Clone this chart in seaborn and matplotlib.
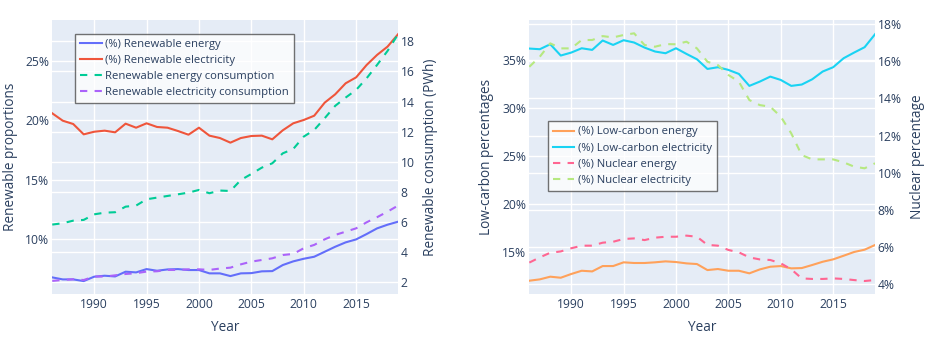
import numpy as np
import pandas as pd
import matplotlib
matplotlib.use("Agg")
import matplotlib.pyplot as plt
import seaborn as sns
from matplotlib.ticker import FuncFormatter, MultipleLocator

years = list(range(1986, 2020))

renew_energy_pct = [6.77, 6.60, 6.60, 6.46, 6.83, 6.91, 6.85, 7.25, 7.19, 7.47,
                    7.33, 7.44, 7.47, 7.39, 7.39, 7.11, 7.11, 6.88, 7.11, 7.13,
                    7.28, 7.30, 7.81, 8.12, 8.34, 8.51, 8.93, 9.35, 9.72, 9.97,
                    10.42, 10.90, 11.21, 11.46]
renew_elec_pct = [20.59, 19.97, 19.69, 18.82, 19.04, 19.13, 18.99, 19.72, 19.38, 19.75,
                  19.44, 19.38, 19.10, 18.79, 19.38, 18.71, 18.51, 18.12, 18.51, 18.68,
                  18.71, 18.40, 19.16, 19.75, 20.03, 20.39, 21.49, 22.19, 23.12, 23.62,
                  24.66, 25.51, 26.21, 27.25]
renew_energy_cons = [5.83, 5.92, 6.09, 6.14, 6.51, 6.62, 6.65, 7.02, 7.09, 7.51,
                     7.62, 7.73, 7.84, 7.95, 8.13, 7.91, 8.09, 8.06, 8.79, 9.19,
                     9.61, 9.90, 10.56, 10.85, 11.67, 12.11, 12.89, 13.71, 14.26, 14.77,
                     15.54, 16.43, 17.36, 18.46]
renew_elec_cons = [2.09, 2.15, 2.20, 2.15, 2.38, 2.38, 2.46, 2.55, 2.60, 2.71,
                   2.73, 2.82, 2.82, 2.86, 2.86, 2.82, 2.91, 2.97, 3.19, 3.37,
                   3.48, 3.59, 3.81, 3.88, 4.26, 4.48, 4.85, 5.14, 5.36, 5.58,
                   5.98, 6.32, 6.69, 7.09]

lowc_energy_pct = [11.97, 12.11, 12.39, 12.28, 12.67, 13.01, 12.94, 13.50, 13.50, 13.89,
                   13.82, 13.82, 13.89, 13.99, 13.92, 13.78, 13.71, 13.08, 13.19, 13.01,
                   13.01, 12.74, 13.15, 13.43, 13.50, 13.26, 13.29, 13.61, 13.95, 14.20,
                   14.58, 14.97, 15.21, 15.70]
lowc_elec_pct = [36.22, 36.15, 36.67, 35.49, 35.80, 36.25, 36.08, 37.06, 36.60, 37.09,
                 36.85, 36.32, 35.91, 35.73, 36.25, 35.66, 35.10, 34.09, 34.27, 33.99,
                 33.57, 32.32, 32.77, 33.29, 32.94, 32.32, 32.46, 33.01, 33.82, 34.27,
                 35.21, 35.80, 36.36, 37.72]
nuc_energy_pct = [5.17, 5.45, 5.70, 5.77, 5.94, 6.08, 6.08, 6.24, 6.29, 6.44,
                  6.47, 6.38, 6.51, 6.56, 6.56, 6.62, 6.56, 6.12, 6.08, 5.85,
                  5.72, 5.45, 5.34, 5.31, 5.13, 4.81, 4.32, 4.29, 4.29, 4.32,
                  4.29, 4.23, 4.18, 4.23]
nuc_elec_pct = [15.70, 16.24, 16.96, 16.69, 16.69, 17.14, 17.14, 17.35, 17.28, 17.41,
                17.50, 16.87, 16.78, 16.92, 16.91, 17.05, 16.69, 15.97, 15.79, 15.26,
                14.90, 13.91, 13.64, 13.55, 13.02, 12.12, 10.95, 10.72, 10.72, 10.72,
                10.56, 10.33, 10.24, 10.51]

df = pd.DataFrame({
    "Year": years,
    "re": renew_energy_pct, "rel": renew_elec_pct,
    "rec": renew_energy_cons, "relc": renew_elec_cons,
    "lce": lowc_energy_pct, "lcel": lowc_elec_pct,
    "ne": nuc_energy_pct, "nel": nuc_elec_pct,
})

TXT = "#2a3f5f"
BG = "#E5ECF6"
plt.rcParams["font.family"] = ["Open Sans", "DejaVu Sans"]
plt.rcParams["text.color"] = TXT

fig = plt.figure(figsize=(9.52, 3.47), dpi=100)
fig.patch.set_facecolor("white")

LW = 1.5
DASH = (3.5, 3.5)
TICK_FS = 8.7
LAB_FS = 9.8
LEG_FS = 8.1


def make_axes(rect):
    B = fig.add_axes(rect)
    A = B.twinx()
    C = B.twinx()
    A.set_zorder(0); B.set_zorder(1); C.set_zorder(2)
    A.patch.set_visible(True); A.set_facecolor(BG)
    B.patch.set_visible(False); C.patch.set_visible(False)
    for ax in (A, B, C):
        for s in ax.spines.values():
            s.set_visible(False)
        ax.tick_params(length=0, colors=TXT, labelsize=TICK_FS)
    A.tick_params(labelright=False, labelleft=False)
    A.grid(True, axis="y", color="white", linewidth=1)
    B.grid(True, color="white", linewidth=1)
    C.grid(False)
    B.set_axisbelow(True)
    B.xaxis.set_major_locator(MultipleLocator(5))
    B.tick_params(axis="x", pad=3)
    B.tick_params(axis="y", pad=2)
    C.tick_params(axis="y", pad=2)
    return A, B, C


pct = FuncFormatter(lambda v, p: f"{v:.0f}%")

# ---------- left chart ----------
A1, B1, C1 = make_axes([0.0549, 0.1527, 0.3632, 0.7896])
sns.lineplot(data=df, x="Year", y="re", ax=B1, color="#636EFA", lw=LW, label="(%) Renewable energy")
sns.lineplot(data=df, x="Year", y="rel", ax=B1, color="#EF553B", lw=LW, label="(%) Renewable electricity")
sns.lineplot(data=df, x="Year", y="rec", ax=C1, color="#00CC96", lw=LW, dashes=DASH, label="Renewable energy consumption")
sns.lineplot(data=df, x="Year", y="relc", ax=C1, color="#AB63FA", lw=LW, dashes=DASH, label="Renewable electricity consumption")
B1.set_ylim(5.37, 28.45)
C1.set_ylim(1.22, 19.41)
A1.set_ylim(1.22, 19.41)
B1.yaxis.set_major_locator(MultipleLocator(5))
B1.yaxis.set_major_formatter(pct)
C1.yaxis.set_major_locator(MultipleLocator(2))
A1.yaxis.set_major_locator(MultipleLocator(2))
B1.set_xlim(1986, 2019)
B1.set_ylabel("Renewable proportions", fontsize=LAB_FS, color=TXT, labelpad=5)
C1.set_ylabel("Renewable consumption (PWh)", fontsize=LAB_FS, color=TXT, labelpad=6)
B1.set_xlabel("Year", fontsize=LAB_FS, color=TXT, labelpad=6)

# ---------- right chart ----------
A2, B2, C2 = make_axes([0.5560, 0.1527, 0.3632, 0.7896])
sns.lineplot(data=df, x="Year", y="lce", ax=B2, color="#FFA15A", lw=LW, label="(%) Low-carbon energy")
sns.lineplot(data=df, x="Year", y="lcel", ax=B2, color="#19D3F3", lw=LW, label="(%) Low-carbon electricity")
sns.lineplot(data=df, x="Year", y="ne", ax=C2, color="#FF6692", lw=LW, dashes=DASH, label="(%) Nuclear energy")
sns.lineplot(data=df, x="Year", y="nel", ax=C2, color="#B6E880", lw=LW, dashes=DASH, label="(%) Nuclear electricity")
B2.set_ylim(10.58, 39.2)
C2.set_ylim(3.48, 18.215)
A2.set_ylim(3.48, 18.215)
B2.yaxis.set_major_locator(MultipleLocator(5))
B2.yaxis.set_major_formatter(pct)
C2.yaxis.set_major_locator(MultipleLocator(2))
A2.yaxis.set_major_locator(MultipleLocator(2))
C2.yaxis.set_major_formatter(pct)
B2.set_xlim(1986, 2019)
B2.set_ylabel("Low-carbon percentages", fontsize=LAB_FS, color=TXT, labelpad=6)
C2.set_ylabel("Nuclear percentage", fontsize=LAB_FS, color=TXT, labelpad=6)
B2.set_xlabel("Year", fontsize=LAB_FS, color=TXT, labelpad=6)

for B, C, loc in ((B1, C1, (0.066, 0.950)), (B2, C2, (0.054, 0.630))):
    h1, l1 = B.get_legend_handles_labels()
    h2, l2 = C.get_legend_handles_labels()
    if B.get_legend():
        B.get_legend().remove()
    if C.get_legend():
        C.get_legend().remove()
    leg = C.legend(h1 + h2, l1 + l2, loc="upper left", bbox_to_anchor=loc,
                   fontsize=LEG_FS, frameon=True, fancybox=False, framealpha=0.75,
                   edgecolor="#444444", facecolor="white", handlelength=1.9,
                   handletextpad=0.35, labelspacing=0.45, borderpad=0.45,
                   borderaxespad=0)
    leg.get_frame().set_linewidth(1)
    for t in leg.get_texts():
        t.set_color(TXT)

fig.savefig("out.png", dpi=100)
